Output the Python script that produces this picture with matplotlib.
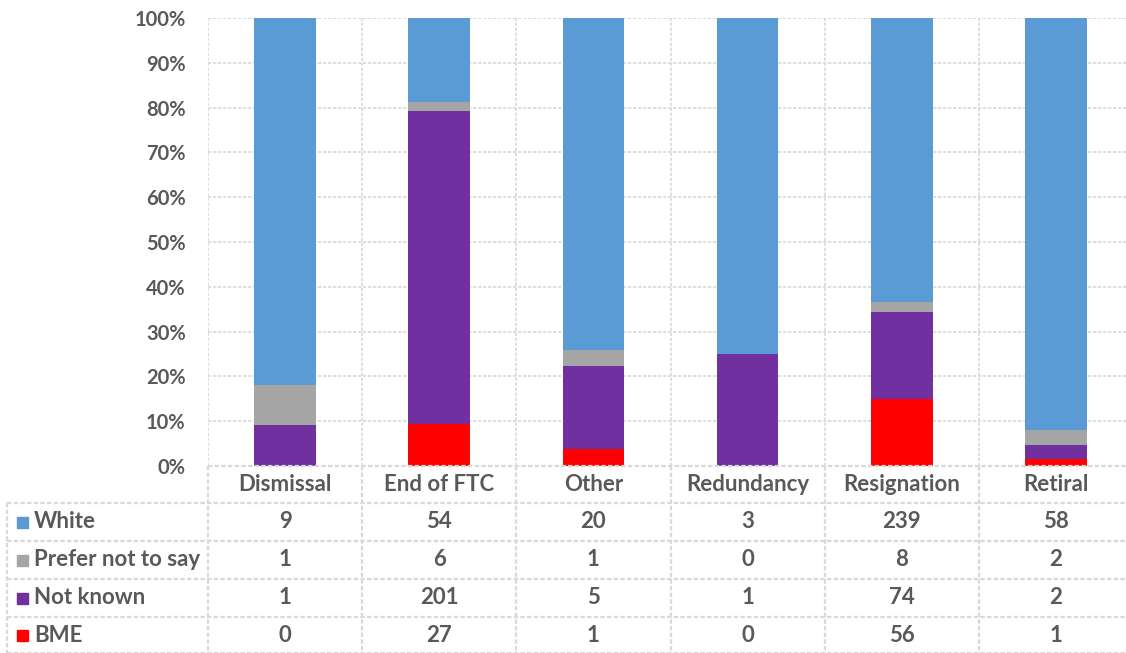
import numpy as np
import matplotlib
matplotlib.use('Agg')
import matplotlib.pyplot as plt
from matplotlib.patches import Rectangle

plt.rcParams['font.family'] = ['Lato', 'DejaVu Sans']

categories = ['Dismissal', 'End of FTC', 'Other', 'Redundancy', 'Resignation', 'Retiral']
series_names = ['White', 'Prefer not to say', 'Not known', 'BME']
white = [9, 54, 20, 3, 239, 58]
prefer_not = [1, 6, 1, 0, 8, 2]
not_known = [1, 201, 5, 1, 74, 2]
bme = [0, 27, 1, 0, 56, 1]

colors = {'White': '#5B9BD5', 'Prefer not to say': '#A5A5A5',
          'Not known': '#7030A0', 'BME': '#FF0000'}
txt_col = '#595959'
grid_col = '#D9D9D9'

W, H = 1126, 653
fig = plt.figure(figsize=(W / 100, H / 100), dpi=100)

# pixel layout
x0, col_w = 208, 154.17
y_top, y_zero = 18, 466
row_edges = [466, 503, 541, 579, 617, 653]

ax = fig.add_axes([x0 / W, 1 - y_zero / H, 6 * col_w / W, (y_zero - y_top) / H])
values = {'White': white, 'Prefer not to say': prefer_not, 'Not known': not_known, 'BME': bme}
totals = np.array(white) + np.array(prefer_not) + np.array(not_known) + np.array(bme)
x = np.arange(len(categories))
bottom = np.zeros(len(categories))
for name in ['BME', 'Not known', 'Prefer not to say', 'White']:
    share = np.array(values[name]) / totals
    ax.bar(x, share, width=0.4, bottom=bottom, color=colors[name], zorder=3)
    bottom += share

ax.set_xlim(-0.5, len(categories) - 0.5)
ax.set_ylim(0, 1)
ax.set_yticks(np.arange(0, 1.01, 0.1))
ax.set_yticklabels([f'{int(round(v * 100))}%' for v in np.arange(0, 1.01, 0.1)],
                   fontsize=14.5, fontweight='bold', color=txt_col)
ax.tick_params(axis='y', length=0, pad=16)
ax.set_xticks([])
for s in ax.spines.values():
    s.set_visible(False)
for v in np.arange(0.1, 1.01, 0.1):
    ax.axhline(v, color=grid_col, lw=1.2, ls=(0, (2, 1)), zorder=1)
for b in np.arange(-0.5, len(categories), 1.0):
    ax.axvline(b, color=grid_col, lw=1.2, ls=(0, (2, 1)), zorder=1)

# data table overlay in pixel coordinates
tab = fig.add_axes([0, 0, 1, 1], zorder=5)
tab.set_xlim(0, W)
tab.set_ylim(H, 0)
tab.axis('off')
tab.patch.set_alpha(0)

lkw = dict(color=grid_col, lw=1.6, ls=(0, (2, 1)))
x_right = x0 + 6 * col_w
tab.plot([x0, x_right], [row_edges[0]] * 2, **lkw)
for ry in row_edges[1:]:
    tab.plot([7, x_right], [ry] * 2, **lkw)
tab.plot([7, 7], [row_edges[1], H], **lkw)
for i in range(7):
    bx = x0 + i * col_w
    tab.plot([bx, bx], [row_edges[0], H], **lkw)

fkw = dict(fontsize=16, fontweight='bold', color=txt_col, va='center')
for i, cat in enumerate(categories):
    cx = x0 + (i + 0.5) * col_w
    tab.text(cx, (row_edges[0] + row_edges[1]) / 2, cat, ha='center', **fkw)

for r, name in enumerate(series_names):
    cy = (row_edges[r + 1] + row_edges[r + 2]) / 2
    tab.add_patch(Rectangle((17, cy - 5.5), 11, 11, color=colors[name]))
    tab.text(34, cy, name, ha='left', **fkw)
    for i, v in enumerate(values[name]):
        cx = x0 + (i + 0.5) * col_w
        tab.text(cx, cy, str(v), ha='center', **fkw)

fig.savefig('out.png', dpi=100)
